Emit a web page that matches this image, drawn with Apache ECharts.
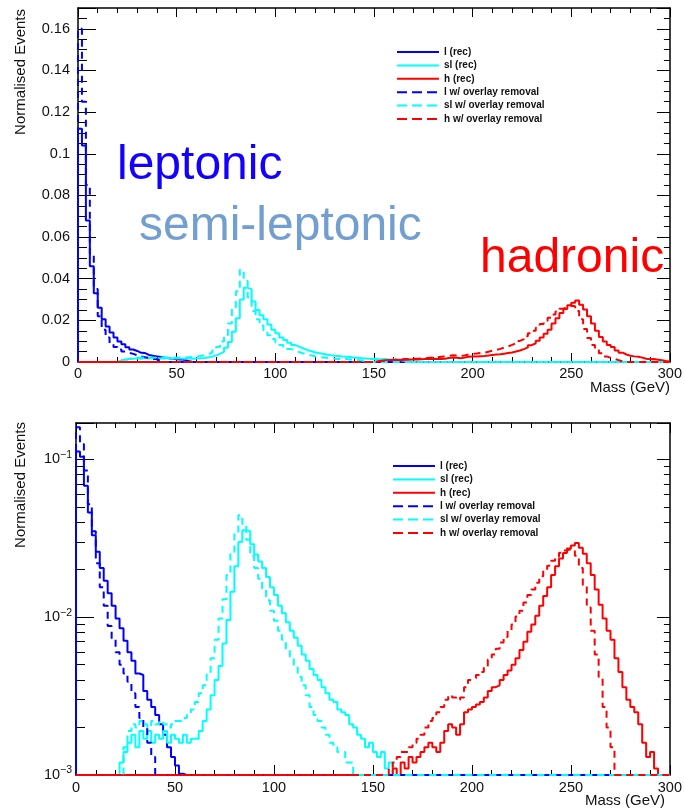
<!DOCTYPE html>
<html>
<head>
<meta charset="utf-8">
<script src="https://cdn.jsdelivr.net/npm/echarts@6/dist/echarts.min.js"></script>
<style>
html,body{margin:0;padding:0;background:#ffffff;}
#chart{width:685px;height:808px;}
</style>
</head>
<body>
<div id="chart"></div>
<script>
// ---------------- data (bin contents, 2 GeV bins, low edge = start + 2*k) ----------------
const binWidth = 2;
const massMin = 0;
const massMax = 300;

const seriesNames = ['l (rec)', 'sl (rec)', 'h (rec)', 'l w/ overlay removal', 'sl w/ overlay removal', 'h w/ overlay removal'];

const lRecStart = 0;
const lRec = [0.112, 0.104, 0.068, 0.046, 0.033, 0.026, 0.0205, 0.017, 0.0142, 0.0118,
  0.0098, 0.0085, 0.0071, 0.006, 0.0053, 0.0044, 0.0043, 0.0034, 0.003, 0.0027,
  0.0024, 0.0021, 0.0018, 0.0015, 0.0013, 0.00115, 0.00102, 0.0005];

const slRecStart = 20;
const slRec = [0.0008, 0.0012, 0.0014, 0.0016, 0.0018, 0.0015, 0.0019, 0.0017, 0.0019, 0.0016,
  0.0018, 0.0017, 0.0019, 0.0016, 0.0018, 0.0017, 0.0016, 0.0018, 0.0016, 0.0017,
  0.0017, 0.0019, 0.0022, 0.0026, 0.0032, 0.004, 0.0049, 0.0068, 0.0096, 0.0145,
  0.021, 0.030, 0.0356, 0.035, 0.029, 0.025, 0.0225, 0.0205, 0.018, 0.0155,
  0.0138, 0.0118, 0.0106, 0.0093, 0.0082, 0.0074, 0.0066, 0.0058, 0.0053, 0.0047,
  0.0043, 0.004, 0.0036, 0.0033, 0.003, 0.0029, 0.0026, 0.0025, 0.0024, 0.0021,
  0.002, 0.0018, 0.0017, 0.0015, 0.0016, 0.0014, 0.0013, 0.0014, 0.0011, 0.0012,
  0.001, 0.0008, 0.0004];

const hRecStart = 150;
const hRec = [0.0004, 0.0006, 0.0008, 0.001, 0.0009, 0.0011, 0.001, 0.0012, 0.0011, 0.0013,
  0.0012, 0.0013, 0.0014, 0.0015, 0.0016, 0.0015, 0.0014, 0.0016, 0.0019, 0.0021,
  0.002, 0.0018, 0.0021, 0.0025, 0.0026, 0.0027, 0.0028, 0.0029, 0.0031, 0.0034,
  0.0036, 0.0037, 0.004, 0.0043, 0.0046, 0.005, 0.0055, 0.0062, 0.007, 0.0081,
  0.009, 0.0102, 0.0118, 0.0136, 0.0155, 0.0185, 0.021, 0.0235, 0.0255, 0.0272,
  0.0285, 0.0295, 0.0275, 0.0252, 0.022, 0.0185, 0.015, 0.012, 0.0098, 0.0082,
  0.0072, 0.0055, 0.0045, 0.0036, 0.003, 0.0027, 0.0025, 0.0021, 0.0016, 0.0013,
  0.0014, 0.0011, 0.0008, 0.0005, 0.0003];

const lOvStart = 0;
const lOv = [0.16, 0.125, 0.085, 0.052, 0.035, 0.022, 0.0155, 0.0118, 0.0088, 0.0072,
  0.006, 0.005, 0.0044, 0.0039, 0.0033, 0.0027, 0.0023, 0.002, 0.0016, 0.0013,
  0.0005];

const slOvStart = 22;
const slOv = [0.0009, 0.0015, 0.0019, 0.0021, 0.002, 0.0022, 0.0021, 0.002, 0.0022, 0.0021,
  0.0022, 0.0021, 0.002, 0.0021, 0.0022, 0.0022, 0.0023, 0.0024, 0.0026, 0.0029,
  0.0033, 0.0037, 0.0045, 0.0055, 0.0072, 0.0098, 0.013, 0.0185, 0.026, 0.034,
  0.0443, 0.039, 0.031, 0.0245, 0.0205, 0.0175, 0.0152, 0.0128, 0.011, 0.0095,
  0.0082, 0.0072, 0.0062, 0.0055, 0.0048, 0.0042, 0.0037, 0.0032, 0.0027, 0.0024,
  0.0022, 0.002, 0.0018, 0.0016, 0.0015, 0.0014, 0.0014, 0.0012, 0.0012, 0.001,
  0.0007];

const hOvStart = 150;
const hOv = [0.0003, 0.0005, 0.0007, 0.0009, 0.0011, 0.0012, 0.0013, 0.0014, 0.0014, 0.0015,
  0.0016, 0.0017, 0.0018, 0.002, 0.0022, 0.0023, 0.0025, 0.0027, 0.003, 0.0032,
  0.0031, 0.003, 0.0031, 0.0036, 0.004, 0.0041, 0.0043, 0.0045, 0.0049, 0.0054,
  0.0058, 0.0063, 0.0069, 0.0075, 0.0082, 0.009, 0.0101, 0.011, 0.0124, 0.0138,
  0.015, 0.0165, 0.0182, 0.0198, 0.0212, 0.0228, 0.0242, 0.0256, 0.0265, 0.027,
  0.0268, 0.0245, 0.0205, 0.0158, 0.0115, 0.0082, 0.0058, 0.0042, 0.0027, 0.002,
  0.0015, 0.0009, 0.0003];

// axis tick settings
const xInterval = 50;
const linYMin = 0, linYMax = 0.17, linYInterval = 0.02;
const logYMin = 0.001, logYMax = 0.17;

// ---------------- styling ----------------
const FONT = 'Liberation Sans, Arial, Helvetica, sans-serif';
const TXT = '#111111';
const BLUE = '#0000ff', CYAN = '#00ffff', RED = '#ff0000';
const DASH = [7, 5];

const defs = [
  {name: seriesNames[0], start: lRecStart, vals: lRec, color: BLUE, dashed: false},
  {name: seriesNames[1], start: slRecStart, vals: slRec, color: CYAN, dashed: false},
  {name: seriesNames[2], start: hRecStart, vals: hRec, color: RED, dashed: false},
  {name: seriesNames[3], start: lOvStart, vals: lOv, color: BLUE, dashed: true},
  {name: seriesNames[4], start: slOvStart, vals: slOv, color: CYAN, dashed: true},
  {name: seriesNames[5], start: hOvStart, vals: hOv, color: RED, dashed: true}
];

function fullBins(start, vals) {
  const n = Math.round((massMax - massMin) / binWidth);
  const out = new Array(n).fill(0);
  const i0 = Math.round((start - massMin) / binWidth);
  vals.forEach((v, k) => { out[i0 + k] = v; });
  return out;
}
// histogram outline points; floor = value drawn for empty bins (0 for linear, axis min for log)
function toPoints(bins, floor) {
  const pts = [[massMin, floor]];
  bins.forEach((v, i) => pts.push([massMin + i * binWidth, Math.max(v, floor)]));
  pts.push([massMax, Math.max(bins[bins.length - 1], floor)]);
  pts.push([massMax, floor]);
  return pts;
}

const series = [];
defs.forEach(d => {
  const bins = fullBins(d.start, d.vals);
  const common = {
    name: d.name, type: 'line', step: 'end', symbol: 'none', showSymbol: false,
    animation: false, silent: true,
    lineStyle: {color: d.color, width: 2, type: d.dashed ? DASH : 'solid'},
    itemStyle: {color: d.color}
  };
  series.push(Object.assign({}, common, {xAxisIndex: 0, yAxisIndex: 0, data: toPoints(bins, 0)}));
  series.push(Object.assign({}, common, {xAxisIndex: 2, yAxisIndex: 2, data: toPoints(bins, logYMin)}));
});

function xAxisDef(grid, pos, showLabel, tickLen, minorLen, margin) {
  return {
    gridIndex: grid, type: 'value', position: pos, min: massMin, max: massMax, interval: xInterval,
    axisLine: {show: true, onZero: false, lineStyle: {color: '#000', width: 1.5}},
    axisTick: {show: true, inside: true, length: tickLen, lineStyle: {color: '#000', width: 1}},
    minorTick: {show: true, splitNumber: 5, length: minorLen, lineStyle: {color: '#000', width: 1}},
    splitLine: {show: false}, minorSplitLine: {show: false},
    axisLabel: {show: showLabel, margin: margin, fontSize: 14.5, color: TXT, fontFamily: FONT}
  };
}
function linYDef(pos, showLabel, tickLen, minorLen) {
  return {
    gridIndex: 0, type: 'value', position: pos, min: linYMin, max: linYMax, interval: linYInterval,
    axisLine: {show: true, onZero: false, lineStyle: {color: '#000', width: 1.5}},
    axisTick: {show: true, inside: true, length: tickLen, lineStyle: {color: '#000', width: 1}},
    minorTick: {show: true, splitNumber: 4, length: minorLen, lineStyle: {color: '#000', width: 1}},
    splitLine: {show: false},
    axisLabel: {show: showLabel, margin: 8, fontSize: 14.5, color: TXT, fontFamily: FONT, showMaxLabel: false}
  };
}
function logYDef(pos, showLabel, tickLen, minorLen) {
  return {
    gridIndex: 1, type: 'log', logBase: 10, position: pos, min: logYMin, max: logYMax,
    axisLine: {show: true, onZero: false, lineStyle: {color: '#000', width: 1.5}},
    axisTick: {show: true, inside: true, length: tickLen, lineStyle: {color: '#000', width: 1}},
    minorTick: {show: true, splitNumber: 9, length: minorLen, lineStyle: {color: '#000', width: 1}},
    splitLine: {show: false},
    axisLabel: {
      show: showLabel, margin: 4, showMaxLabel: false, color: TXT, fontFamily: FONT,
      formatter: v => {
        const e = Math.round(Math.log10(v));
        return '{b|10}{s|' + (e < 0 ? '\u2212' : '') + Math.abs(e) + '}';
      },
      rich: {
        b: {fontSize: 14.5, lineHeight: 20, color: TXT, fontFamily: FONT},
        s: {fontSize: 10.5, lineHeight: 10, verticalAlign: 'top', color: TXT, fontFamily: FONT}
      }
    }
  };
}

function legendDef(left, top) {
  return {
    orient: 'vertical', left: left, top: top, itemWidth: 42, itemHeight: 10, itemGap: 3.4,
    padding: 0, selectedMode: false,
    itemStyle: {opacity: 0},
    textStyle: {fontSize: 10, fontWeight: 'bold', color: TXT, fontFamily: FONT},
    data: defs.map(d => ({name: d.name, lineStyle: {type: d.dashed ? [10, 5] : 'solid', width: 2, color: d.color}}))
  };
}

function label(text, x, y, size, color, align, rot) {
  return {
    type: 'text', x: x, y: y, rotation: rot || 0, silent: true, z: 10,
    style: {text: text, fill: color, fontSize: size, fontFamily: FONT,
      align: align, verticalAlign: 'middle', textAlign: align, textVerticalAlign: 'middle'}
  };
}

const option = {
  backgroundColor: '#ffffff',
  animation: false,
  grid: [
    {left: 78, top: 8, width: 595, height: 354, containLabel: false},
    {left: 76, top: 423, width: 594, height: 352, containLabel: false}
  ],
  xAxis: [
    xAxisDef(0, 'bottom', true, 9, 5, 4),
    xAxisDef(0, 'top', false, 9, 5, 4),
    xAxisDef(1, 'bottom', true, 10, 5, 5),
    xAxisDef(1, 'top', false, 10, 5, 5)
  ],
  yAxis: [
    linYDef('left', true, 18, 9),
    linYDef('right', false, 13, 6),
    logYDef('left', true, 18, 9),
    logYDef('right', false, 13, 6)
  ],
  legend: [legendDef(396, 47), legendDef(392, 461)],
  series: series,
  graphic: [
    label('leptonic', 117, 165.5, 48, '#1400ff', 'left'),
    label('semi-leptonic', 139, 226.5, 48, '#729fcf', 'left'),
    label('hadronic', 480, 258.5, 48, '#ff0000', 'left'),
    label('Mass (GeV)', 670, 387.5, 15, TXT, 'right'),
    label('Mass (GeV)', 665, 801, 15, TXT, 'right'),
    label('Normalised Events', 21, 9, 15, TXT, 'right', Math.PI / 2),
    label('Normalised Events', 21, 422, 15, TXT, 'right', Math.PI / 2)
  ]
};

const chart = echarts.init(document.getElementById('chart'), null, {renderer: 'canvas'});
chart.setOption(option);
</script>
</body>
</html>
